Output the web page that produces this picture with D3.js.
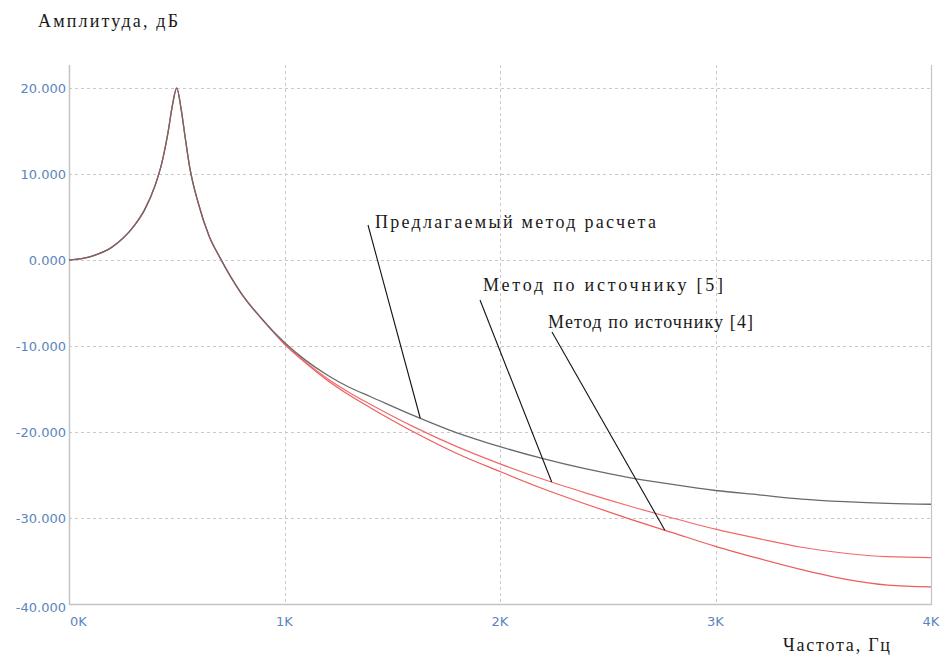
<!DOCTYPE html>
<html>
<head>
<meta charset="utf-8">
<script src="https://cdn.jsdelivr.net/npm/d3@7"></script>
<style>
  html, body { margin: 0; padding: 0; background: #ffffff; }
  svg { display: block; }
</style>
</head>
<body>
<svg id="chart" width="943" height="657"></svg>
<script>
// Frequency grid, Hz
const freqHz = [0, 100, 200, 300, 350, 400, 430, 460, 480, 500, 520, 540, 560, 600, 650, 700, 800, 900,
                1000, 1100, 1200, 1300, 1400, 1600, 1800, 2000, 2200, 2400, 2600, 2800, 3000, 3200, 3400, 3600, 3800, 4000];

// Amplitude response, dB — proposed calculation method
const proposedDb = [0, 0.4, 1.5, 3.9, 5.8, 8.7, 11.2, 14.9, 18.0, 20.0, 17.6, 14.1, 10.8, 6.6, 2.8, 0.3, -3.9, -7.0,
                    -9.6, -11.7, -13.4, -14.8, -15.9, -18.1, -20.1, -21.7, -23.1, -24.3, -25.3, -26.1, -26.8, -27.3, -27.8, -28.1, -28.3, -28.4];

// Method according to source [5]
const source5Db = [0, 0.4, 1.5, 3.9, 5.8, 8.7, 11.2, 14.9, 18.0, 20.0, 17.6, 14.1, 10.8, 6.6, 2.8, 0.3, -3.9, -7.0,
                   -9.7, -11.9, -13.8, -15.4, -16.8, -19.4, -21.7, -23.7, -25.5, -27.1, -28.6, -30.0, -31.3, -32.4, -33.4, -34.1, -34.5, -34.6];

// Method according to source [4]
const source4Db = [0, 0.4, 1.5, 3.9, 5.8, 8.7, 11.2, 14.9, 18.0, 20.0, 17.6, 14.1, 10.8, 6.6, 2.8, 0.3, -3.9, -7.0,
                   -9.8, -12.0, -14.0, -15.7, -17.2, -20.0, -22.5, -24.6, -26.6, -28.4, -30.1, -31.7, -33.3, -34.7, -36.0, -37.1, -37.8, -38.0];

// Axis ticks
const xTicks = [0, 1000, 2000, 3000, 4000];
const xTickLabels = ["0K", "1K", "2K", "3K", "4K"];
const yTicks = [20, 10, 0, -10, -20, -30, -40];
const yTickLabels = ["20.000", "10.000", "0.000", "-10.000", "-20.000", "-30.000", "-40.000"];

// Titles and callouts
const yTitle = "Амплитуда, дБ";
const xTitle = "Частота, Гц";
const calloutTexts = ["Предлагаемый метод расчета", "Метод по источнику [5]", "Метод по источнику [4]"];

const svg = d3.select("#chart");
const plotLeft = 69, plotRight = 931, plotTop = 88, plotBottom = 604, frameTop = 65;

const x = d3.scaleLinear().domain([0, 4000]).range([plotLeft, plotRight]);
const y = d3.scaleLinear().domain([-40, 20]).range([plotBottom, plotTop]);

const gridColor = "#c9c9c9";
const axisColor = "#c4c4c4";
const labelColor = "#5b86bd";
const serif = "'Liberation Serif', 'Times New Roman', serif";

// Horizontal dashed grid
svg.append("g").selectAll("line").data(yTicks.filter(v => v !== -40)).join("line")
  .attr("x1", plotLeft).attr("x2", plotRight)
  .attr("y1", d => y(d) + 0.5).attr("y2", d => y(d) + 0.5)
  .attr("stroke", gridColor).attr("stroke-width", 1).attr("stroke-dasharray", "3,3");

// Vertical dashed grid
svg.append("g").selectAll("line").data(xTicks.filter(v => v > 0 && v < 4000)).join("line")
  .attr("x1", d => Math.round(x(d)) + 0.5).attr("x2", d => Math.round(x(d)) + 0.5)
  .attr("y1", frameTop).attr("y2", plotBottom)
  .attr("stroke", gridColor).attr("stroke-width", 1).attr("stroke-dasharray", "3,3");

// Frame lines: left axis, bottom axis, right edge
svg.append("line").attr("x1", plotLeft + 0.5).attr("x2", plotLeft + 0.5).attr("y1", frameTop).attr("y2", plotBottom + 1)
  .attr("stroke", axisColor).attr("stroke-width", 1.5);
svg.append("line").attr("x1", plotLeft).attr("x2", plotRight + 1).attr("y1", plotBottom + 0.5).attr("y2", plotBottom + 0.5)
  .attr("stroke", axisColor).attr("stroke-width", 1.5);
svg.append("line").attr("x1", plotRight + 0.5).attr("x2", plotRight + 0.5).attr("y1", frameTop).attr("y2", plotBottom + 1)
  .attr("stroke", axisColor).attr("stroke-width", 1.2);

// Y tick labels
svg.append("g").selectAll("text").data(yTicks).join("text")
  .attr("x", plotLeft - 3)
  .attr("y", d => d === -40 ? y(d) + 3 : y(d))
  .attr("dy", "0.35em")
  .attr("text-anchor", "end")
  .attr("font-family", "'DejaVu Sans', Verdana, sans-serif")
  .attr("font-size", 13)
  .attr("fill", labelColor)
  .text((d, i) => yTickLabels[i]);

// X tick labels
svg.append("g").selectAll("text").data(xTicks).join("text")
  .attr("x", d => d === 0 ? x(d) + 1 : x(d))
  .attr("y", 626)
  .attr("text-anchor", d => d === 0 ? "start" : "middle")
  .attr("font-family", "'DejaVu Sans', Verdana, sans-serif")
  .attr("font-size", 13)
  .attr("fill", labelColor)
  .text((d, i) => xTickLabels[i]);

// Axis titles
svg.append("text").attr("x", 38).attr("y", 27)
  .attr("font-family", serif).attr("font-size", 18)
  .attr("fill", "#1a1a1a").attr("textLength", 140).attr("lengthAdjust", "spacing")
  .text(yTitle);
svg.append("text").attr("x", 783).attr("y", 651)
  .attr("font-family", serif).attr("font-size", 18)
  .attr("fill", "#1a1a1a").attr("textLength", 107).attr("lengthAdjust", "spacing")
  .text(xTitle);

// Response curves
const line = vals => d3.line()
  .x((d, i) => x(freqHz[i]))
  .y(d => y(d))
  .curve(d3.curveMonotoneX)(vals);

const series = [
  { vals: source4Db, color: "#ee5d5d", width: 1.2 },
  { vals: source5Db, color: "#f06a6a", width: 1.2 },
  { vals: proposedDb, color: "#6a6a6a", width: 1.3 }
];
svg.append("g").selectAll("path").data(series).join("path")
  .attr("d", s => line(s.vals))
  .attr("fill", "none")
  .attr("stroke", s => s.color)
  .attr("stroke-width", s => s.width);

// Callout leaders: each runs from its label down to a point on its curve
const callouts = [
  { text: calloutTexts[0], tx: 375, ty: 228, width: 281, lx: 368, ly: 225, f: 1630, vals: proposedDb },
  { text: calloutTexts[1], tx: 483, ty: 291, width: 240, lx: 480, ly: 300, f: 2240, vals: source5Db },
  { text: calloutTexts[2], tx: 548, ty: 328, width: 205, lx: 552, ly: 332, f: 2765, vals: source4Db }
];
const valueAt = (vals, f) => {
  const i = d3.bisectRight(freqHz, f) - 1;
  const t = (f - freqHz[i]) / (freqHz[i + 1] - freqHz[i]);
  return vals[i] + t * (vals[i + 1] - vals[i]);
};

svg.append("g").selectAll("line").data(callouts).join("line")
  .attr("x1", d => d.lx).attr("y1", d => d.ly)
  .attr("x2", d => x(d.f)).attr("y2", d => y(valueAt(d.vals, d.f)))
  .attr("stroke", "#111").attr("stroke-width", 1.1);

svg.append("g").selectAll("text").data(callouts).join("text")
  .attr("x", d => d.tx).attr("y", d => d.ty)
  .attr("font-family", serif)
  .attr("font-size", 18)
  .attr("fill", "#1a1a1a")
  .attr("textLength", d => d.width).attr("lengthAdjust", "spacing")
  .text(d => d.text);
</script>
</body>
</html>
